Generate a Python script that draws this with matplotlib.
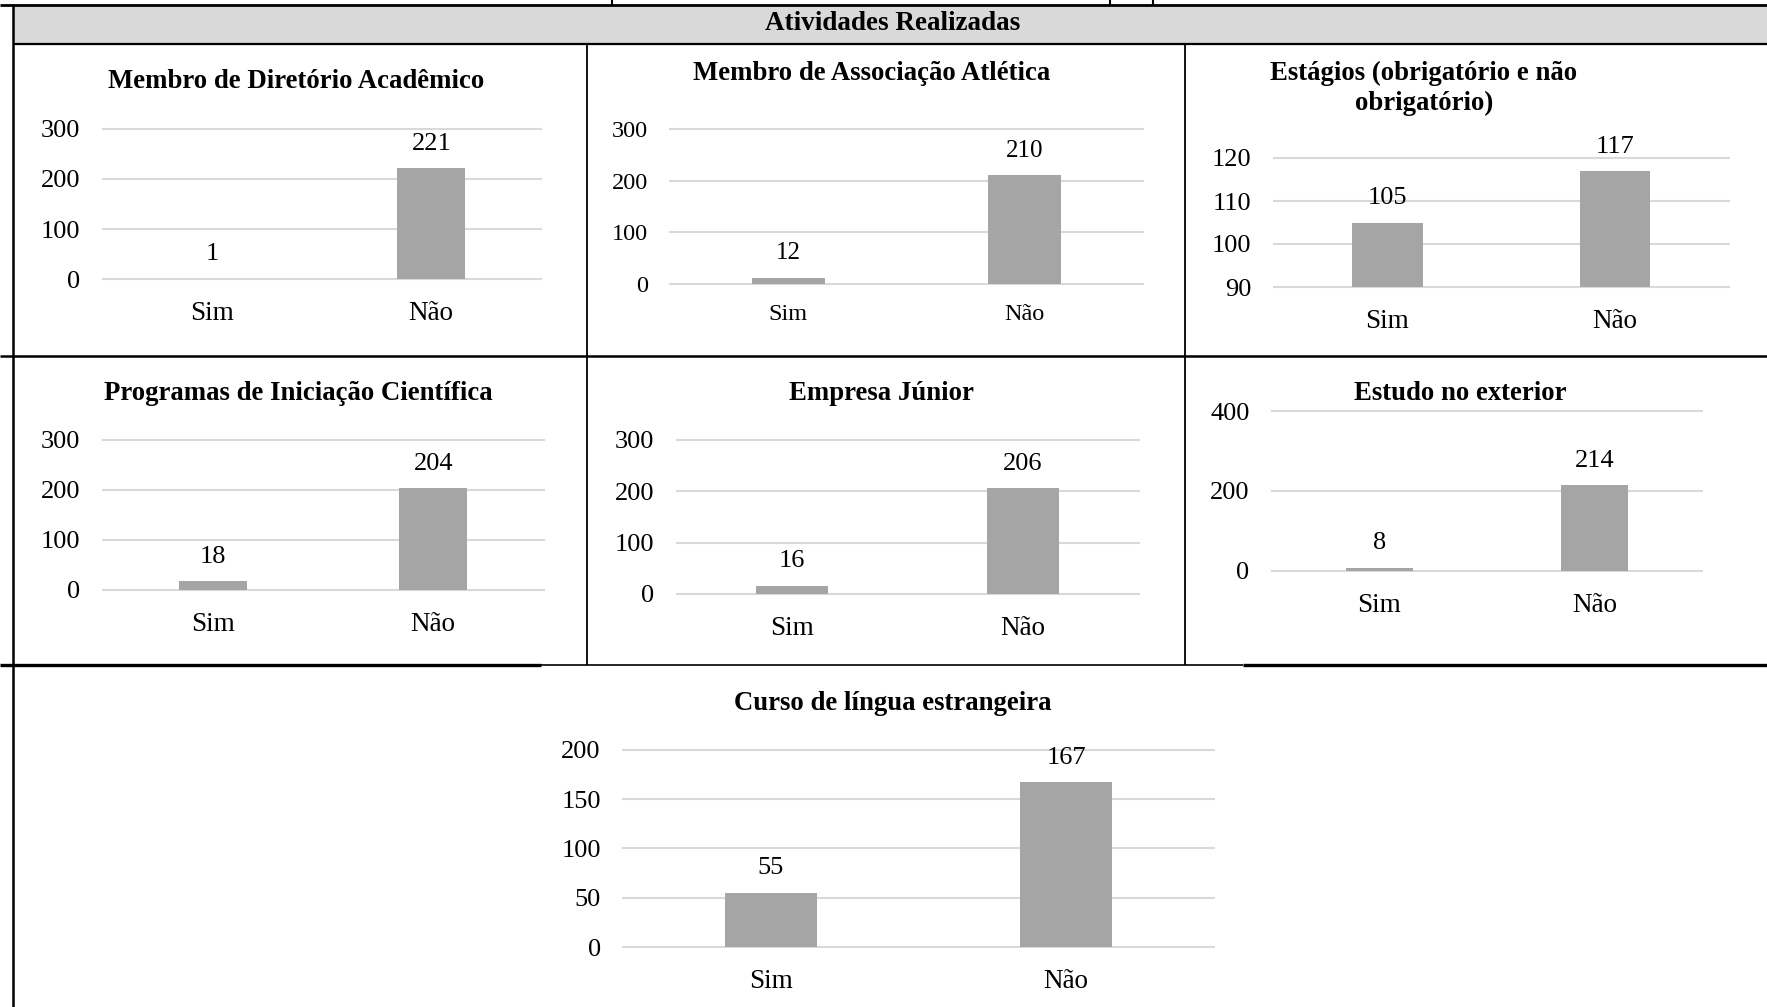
import matplotlib
matplotlib.use("Agg")
import matplotlib.pyplot as plt
from matplotlib.lines import Line2D
from matplotlib.patches import Rectangle

# ---------------- data ----------------
categories = ["Sim", "Não"]
header_title = "Atividades Realizadas"

title_diretorio = "Membro de Diretório Acadêmico"
title_atletica = "Membro de Associação Atlética"
title_estagios = "Estágios (obrigatório e não\nobrigatório)"
title_iniciacao = "Programas de Iniciação Científica"
title_empresa = "Empresa Júnior"
title_exterior = "Estudo no exterior"
title_lingua = "Curso de língua estrangeira"

vals_diretorio = [1, 221]
vals_atletica = [12, 210]
vals_estagios = [105, 117]
vals_iniciacao = [18, 204]
vals_empresa = [16, 206]
vals_exterior = [8, 214]
vals_lingua = [55, 167]

ticks_diretorio = [0, 100, 200, 300]
ticks_atletica = [0, 100, 200, 300]
ticks_estagios = [90, 100, 110, 120]
ticks_iniciacao = [0, 100, 200, 300]
ticks_empresa = [0, 100, 200, 300]
ticks_exterior = [0, 200, 400]
ticks_lingua = [0, 50, 100, 150, 200]

# ---------------- layout (pixels) ----------------
W, H = 1767, 1007
plt.rcParams["font.family"] = ["Liberation Serif", "DejaVu Serif"]

BAR = "#a5a5a5"
GRID = "#d9d9d9"
BAND = "#d9d9d9"

fig = plt.figure(figsize=(W / 100, H / 100), dpi=100)
fig.patch.set_facecolor("white")


def fx(x):
    return x / W


def fy(y):
    return 1 - y / H


def hline(x0, x1, y, lw):
    fig.add_artist(Line2D([fx(x0), fx(x1)], [fy(y), fy(y)], transform=fig.transFigure,
                          color="black", lw=lw, solid_capstyle="butt"))


def vline(x, y0, y1, lw):
    fig.add_artist(Line2D([fx(x), fx(x)], [fy(y0), fy(y1)], transform=fig.transFigure,
                          color="black", lw=lw, solid_capstyle="butt"))


# header band
fig.add_artist(Rectangle((fx(13), fy(43)), fx(W) - fx(13), fy(6) - fy(43),
                         transform=fig.transFigure, facecolor=BAND, edgecolor="none", zorder=0))
fig.text(fx(893), fy(24), header_title, ha="center", va="center",
         fontsize=19.5, fontweight="bold")

# table lines
hline(0, W, 5, 2.0)
hline(13, W, 43.5, 1.6)
hline(0, W, 355.5, 1.8)
hline(0, 541, 665, 2.4)
hline(541, 1243, 665, 1.2)
hline(1243, W, 665, 2.4)
vline(13, 4, H, 1.8)
vline(587, 44, 665, 1.3)
vline(1185, 44, 665, 1.3)
# remnants of cut-off text above the table
for xx in (612, 1110, 1153):
    vline(xx, 0, 5, 1.5)


def chart(vals, ticks, title, x0, x1, ytop, ybot, tcx, tcy,
          fs_tick=19, fs_cat=19.5, fs_val=19, cat_pad=15.8, title_ls=1.2):
    ax = fig.add_axes([fx(x0), fy(ybot), fx(x1) - fx(x0), (ybot - ytop) / H])
    ax.set_facecolor("none")
    x = list(range(len(categories)))
    ax.bar(x, vals, width=0.31, color=BAR, zorder=2)
    ax.set_xlim(-0.5, len(categories) - 0.5)
    ax.set_ylim(ticks[0], ticks[-1])
    ax.set_yticks(ticks)
    ax.set_yticklabels([str(t) for t in ticks])
    ax.set_xticks(x)
    ax.set_xticklabels(categories)
    ax.tick_params(axis="y", length=0, pad=16, labelsize=fs_tick)
    ax.tick_params(axis="x", length=0, pad=cat_pad, labelsize=fs_cat)
    ax.set_axisbelow(True)
    ax.yaxis.grid(True, color=GRID, lw=1.5)
    ax.xaxis.grid(False)
    for gl in ax.get_ygridlines():
        gl.set_clip_on(False)
    for s in ax.spines.values():
        s.set_visible(False)
    for i, v in enumerate(vals):
        ax.annotate(str(v), (i, v), xytext=(0, 17.5), textcoords="offset points",
                    ha="center", va="center", fontsize=fs_val, annotation_clip=False)
    fig.text(fx(tcx), fy(tcy), title, ha="center", va="center", fontsize=19.3,
             fontweight="bold", linespacing=title_ls)
    return ax


chart(vals_diretorio, ticks_diretorio, title_diretorio, 102.6, 540.8, 129, 279, 296, 82)
chart(vals_atletica, ticks_atletica, title_atletica, 670, 1143, 129, 284, 872, 73,
      fs_tick=17.5, fs_cat=17.5, fs_val=18, cat_pad=14.5)
chart(vals_estagios, ticks_estagios, title_estagios, 1273.6, 1729, 158, 287, 1424, 88,
      title_ls=1.25)
chart(vals_iniciacao, ticks_iniciacao, title_iniciacao, 102.5, 543.5, 440, 590, 298, 393)
chart(vals_empresa, ticks_empresa, title_empresa, 676.5, 1138.5, 440, 594, 881.6, 393)
chart(vals_exterior, ticks_exterior, title_exterior, 1271.7, 1702.3, 411, 570.7, 1460.5, 393)
chart(vals_lingua, ticks_lingua, title_lingua, 623, 1214, 749.7, 947, 892.5, 703)

fig.savefig("out.png", dpi=100, facecolor="white")
